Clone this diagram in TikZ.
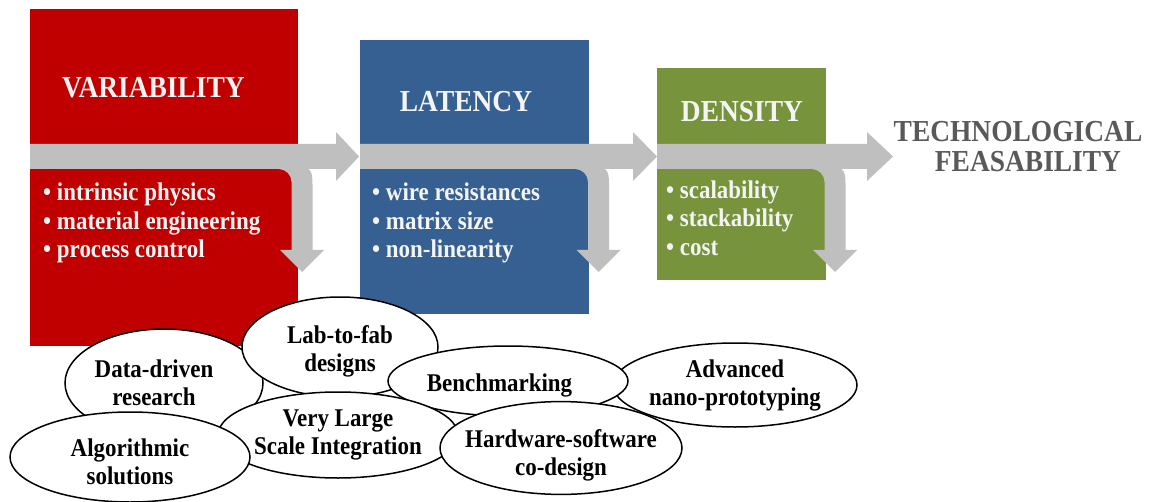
\documentclass[tikz,border=0pt]{standalone}
\usepackage{fontspec}
\setmainfont{Liberation Serif}[FakeStretch=0.9]
\usetikzlibrary{shapes.geometric}

\definecolor{varred}{HTML}{C00000}
\definecolor{latblue}{HTML}{376092}
\definecolor{dengreen}{HTML}{77933C}
\definecolor{flowgray}{HTML}{BFBFBF}
\definecolor{feasgray}{HTML}{595959}
\definecolor{softwhite}{HTML}{F4F4F4}

% Gray flow band of one stage: #1 band start, #2 head start, #3 head tip,
% #4 centre of the branch that bends down out of the band
\newcommand\flowarrow[4]{%
  \fill[flowgray]
    (#1,144) -- (#2,144) -- (#2,132) -- (#3,156.5) -- (#2,181) -- (#2,169)
    -- ({#4+6.5},169) .. controls ({#4+10.5},172) and ({#4+10.5},178) .. ({#4+10.5},186)
    -- ({#4+10.5},250) -- ({#4+22},250) -- (#4,272) -- ({#4-22},250)
    -- ({#4-10.5},250) -- ({#4-10.5},182)
    .. controls ({#4-10.5},174.8) and ({#4-16.3},169) .. ({#4-23.5},169)
    -- (#1,169) -- cycle;}

% invisible strut on a first line: a taller strut sets the lettering lower
\newcommand\topstrut[1]{\rule{0pt}{#1}}

\tikzset{
  heading/.style={text=softwhite, inner sep=0pt,
    font=\bfseries\fontsize{30.5}{30}\selectfont},
  bullets/.style={text=softwhite, inner sep=0pt, anchor=base west,
    font=\bfseries\fontsize{25.5}{28.5}\selectfont},
  goal/.style={text=feasgray, inner sep=0pt, anchor=base,
    font=\bfseries\fontsize{30.5}{30}\selectfont},
  oval/.style={ellipse, draw=black, line width=1.5pt, fill=white,
    inner xsep=-15pt, inner ysep=0pt, align=center,
    font=\bfseries\fontsize{25.5}{28}\selectfont}
}

\newcommand\bulletlist[1]{\parbox[t]{260pt}{\raggedright #1}}

\begin{document}
\begin{tikzpicture}[x=1pt, y=-1pt]
\useasboundingbox (0,0) rectangle (1155,502);

% stage boxes
\fill[varred]   (30,9)   rectangle (298,346);
\fill[latblue]  (360,40) rectangle (589,314);
\fill[dengreen] (657,68) rectangle (826,280);

% flow bands with their downward branches
\flowarrow{30}{336}{359}{302}
\flowarrow{360}{633}{657}{598.5}
\flowarrow{657}{867}{893}{835}

% stage titles
\node[heading, anchor=base] (var) at (153.5,98) {VARIABILITY};
\node[heading, anchor=base] (lat) at (466,112) {LATENCY};
\node[heading, anchor=base] (den) at (742,121.5) {DENSITY};

% stage aspects
\node[bullets] (varlist) at (43,201) {\bulletlist{•\ intrinsic physics\\•\ material engineering\\•\ process control}};
\node[bullets] (latlist) at (372,201) {\bulletlist{•\ wire resistances\\•\ matrix size\\•\ non-linearity}};
\node[bullets] (denlist) at (666,198.5) {\bulletlist{•\ scalability\\•\ stackability\\•\ cost}};

% final goal
\node[goal] (feas) at (1018,142) {\begin{tabular}[t]{@{}c@{}}TECHNOLOGICAL\\\hspace*{20pt}FEASABILITY\end{tabular}};

% research directions
\node[oval, minimum width=198pt, minimum height=108pt] (data) at (164,383)
  {\hspace*{-20pt}Data-driven\\\hspace*{-20pt}research};
\node[oval, minimum width=244pt, minimum height=84pt] (nano) at (735,385)
  {Advanced\\nano-prototyping};
\node[oval, minimum width=196pt, minimum height=100pt] (lab) at (340,347)
  {\topstrut{26pt}Lab-to-fab\\designs};
\node[oval, minimum width=240pt, minimum height=70pt] (bench) at (508,381)
  {\topstrut{26pt}\hspace*{-17pt}Benchmarking};
\node[oval, minimum width=240pt, minimum height=86pt] (vlsi) at (338,435)
  {Very Large\\Scale Integration};
\node[oval, minimum width=240pt, minimum height=90pt] (algo) at (130,457)
  {\topstrut{28pt}Algorithmic\\solutions};
\node[oval, minimum width=242pt, minimum height=90pt] (hwsw) at (561,448)
  {\topstrut{32pt}Hardware-software\\co-design};
\end{tikzpicture}
\end{document}
